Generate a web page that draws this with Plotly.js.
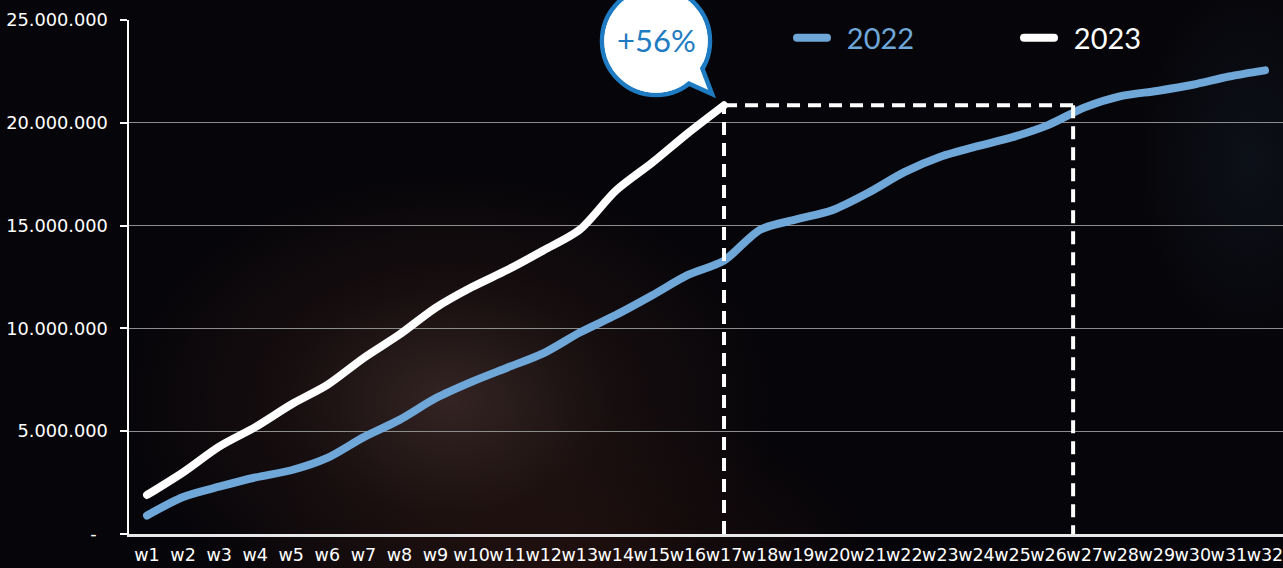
<!DOCTYPE html>
<html>
<head>
<meta charset="utf-8">
<script src="https://cdn.plot.ly/plotly-3.0.1.min.js"></script>
<style>
  html, body { margin:0; padding:0; }
  body {
    width:1283px; height:568px; overflow:hidden;
    background:
      radial-gradient(ellipse 330px 230px at 450px 400px, rgba(60,42,40,0.85) 0%, rgba(38,22,20,0.5) 50%, rgba(0,0,0,0) 100%),
      radial-gradient(ellipse 320px 160px at 560px 560px, rgba(45,20,15,0.6) 0%, rgba(0,0,0,0) 100%),
      radial-gradient(ellipse 120px 200px at 1250px 160px, rgba(20,28,40,0.5) 0%, rgba(0,0,0,0) 100%),
      #060509;
  }
  #chart { width:1283px; height:568px; }
  .js-line { stroke-linecap: round; stroke-linejoin: round; }
  .legendlines path { stroke-linecap: round; }
</style>
</head>
<body>
<div id="chart"></div>
<script>
// ---- data ----
const weeks = ["w1","w2","w3","w4","w5","w6","w7","w8","w9","w10","w11","w12","w13","w14","w15","w16",
               "w17","w18","w19","w20","w21","w22","w23","w24","w25","w26","w27","w28","w29","w30","w31","w32"];
const sales2022 = [900000, 1800000, 2300000, 2750000, 3100000, 3700000, 4700000, 5550000,
                   6600000, 7400000, 8100000, 8800000, 9800000, 10650000, 11600000, 12600000,
                   13300000, 14800000, 15300000, 15750000, 16600000, 17600000, 18350000, 18850000,
                   19300000, 19900000, 20750000, 21300000, 21550000, 21850000, 22250000, 22550000];
const sales2023 = [1900000, 3000000, 4250000, 5200000, 6300000, 7250000, 8550000, 9700000,
                   11000000, 12000000, 12850000, 13800000, 14800000, 16700000, 18050000, 19500000,
                   20850000];
const yTickVals = [0, 5000000, 10000000, 15000000, 20000000, 25000000];
const yTickText = ["-\u00a0\u00a0", "5.000.000", "10.000.000", "15.000.000", "20.000.000", "25.000.000"];
const seriesNames = ["2022", "2023"];
const growthLabel = "+56%";

// ---- layout helpers ----
const W = 1283, H = 568, ML = 129, MR = 0, MT = 20, MB = 34;
const PW = W - ML - MR, PH = H - MT - MB;
const px = x => (x - ML) / PW;
const py = y => (H - MB - y) / PH;

const FONT = "Lato, 'Noto Sans', sans-serif";
const TICKFONT = "'DejaVu Sans', sans-serif";
const BLUE = "#6fa7d8";
const BUBBLE = "#1f7cc2";
const SP = "\u00a0\u00a0";

const lastIdx2023 = sales2023.length - 1;
const compareLevel = sales2023[lastIdx2023];
const compareEndX = 25.68; // guide position where 2022 reaches the 2023 level

const traces = [
  {
    x: weeks, y: sales2022, type: "scatter", mode: "lines",
    name: '<span style="color:' + BLUE + '">' + SP + seriesNames[0] + '</span>',
    line: { color: BLUE, width: 8, shape: "spline", smoothing: 0.8 },
    hoverinfo: "skip"
  },
  {
    x: weeks.slice(0, sales2023.length), y: sales2023, type: "scatter", mode: "lines",
    name: SP + seriesNames[1],
    line: { color: "#ffffff", width: 8, shape: "spline", smoothing: 0.8 },
    hoverinfo: "skip"
  }
];

const dashLine = { color: "#ffffff", width: 4, dash: "13px,8px" };

const shapes = [
  { type: "line", xref: "x", yref: "y", x0: lastIdx2023, x1: lastIdx2023, y0: 0, y1: compareLevel, line: dashLine, layer: "above" },
  { type: "line", xref: "x", yref: "y", x0: lastIdx2023, x1: compareEndX, y0: compareLevel, y1: compareLevel, line: dashLine, layer: "above" },
  { type: "line", xref: "x", yref: "y", x0: compareEndX, x1: compareEndX, y0: compareLevel, y1: 0, line: dashLine, layer: "above" },
  // speech bubble
  { type: "circle", xref: "paper", yref: "paper", x0: px(602), x1: px(710), y0: py(95), y1: py(-13),
    fillcolor: "#ffffff", line: { color: BUBBLE, width: 4.5 }, layer: "above" },
  { type: "path", xref: "paper", yref: "paper",
    path: "M " + px(698) + "," + py(57) + " L " + px(712) + "," + py(94) + " L " + px(681) + "," + py(80) + " Z",
    fillcolor: "#ffffff", line: { color: BUBBLE, width: 4.5 }, layer: "above" },
  { type: "circle", xref: "paper", yref: "paper", x0: px(604.3), x1: px(707.7), y0: py(92.7), y1: py(-10.7),
    fillcolor: "#ffffff", line: { width: 0 }, layer: "above" }
];

const layout = {
  width: W, height: H,
  margin: { l: ML, r: MR, t: MT, b: MB, pad: 0 },
  paper_bgcolor: "rgba(0,0,0,0)",
  plot_bgcolor: "rgba(0,0,0,0)",
  font: { family: FONT, color: "#ffffff" },
  showlegend: true,
  legend: {
    orientation: "h", x: px(792), xanchor: "left", y: py(38), yanchor: "middle",
    font: { family: FONT, size: 29, color: "#ffffff" },
    bgcolor: "rgba(0,0,0,0)", entrywidth: 182, entrywidthmode: "pixels",
    traceorder: "normal"
  },
  xaxis: {
    type: "category", range: [-0.5, 31.5], tickmode: "linear", tick0: 0, dtick: 1,
    tickangle: 0, showgrid: false, zeroline: false,
    showline: true, linecolor: "#e8e8e8", linewidth: 2.5,
    ticks: "", ticklabelstandoff: 3,
    tickfont: { family: TICKFONT, size: 17.5, color: "#ffffff" },
    fixedrange: true
  },
  yaxis: {
    range: [0, 25000000], tickmode: "array", tickvals: yTickVals, ticktext: yTickText,
    showgrid: true, gridcolor: "#8d8d8d", gridwidth: 1, zeroline: false,
    showline: true, linecolor: "#ffffff", linewidth: 2.5,
    ticks: "outside", ticklen: 7, tickwidth: 2, tickcolor: "#ffffff",
    ticklabelstandoff: 8,
    tickfont: { family: TICKFONT, size: 17.8, color: "#ffffff" },
    fixedrange: true
  },
  shapes: shapes,
  annotations: [
    { xref: "paper", yref: "paper", x: px(656), y: py(40), text: growthLabel, showarrow: false,
      xanchor: "center", yanchor: "middle",
      font: { family: FONT, size: 31, color: BUBBLE } }
  ]
};

Plotly.newPlot("chart", traces, layout, { staticPlot: true, displayModeBar: false });
</script>
</body>
</html>
